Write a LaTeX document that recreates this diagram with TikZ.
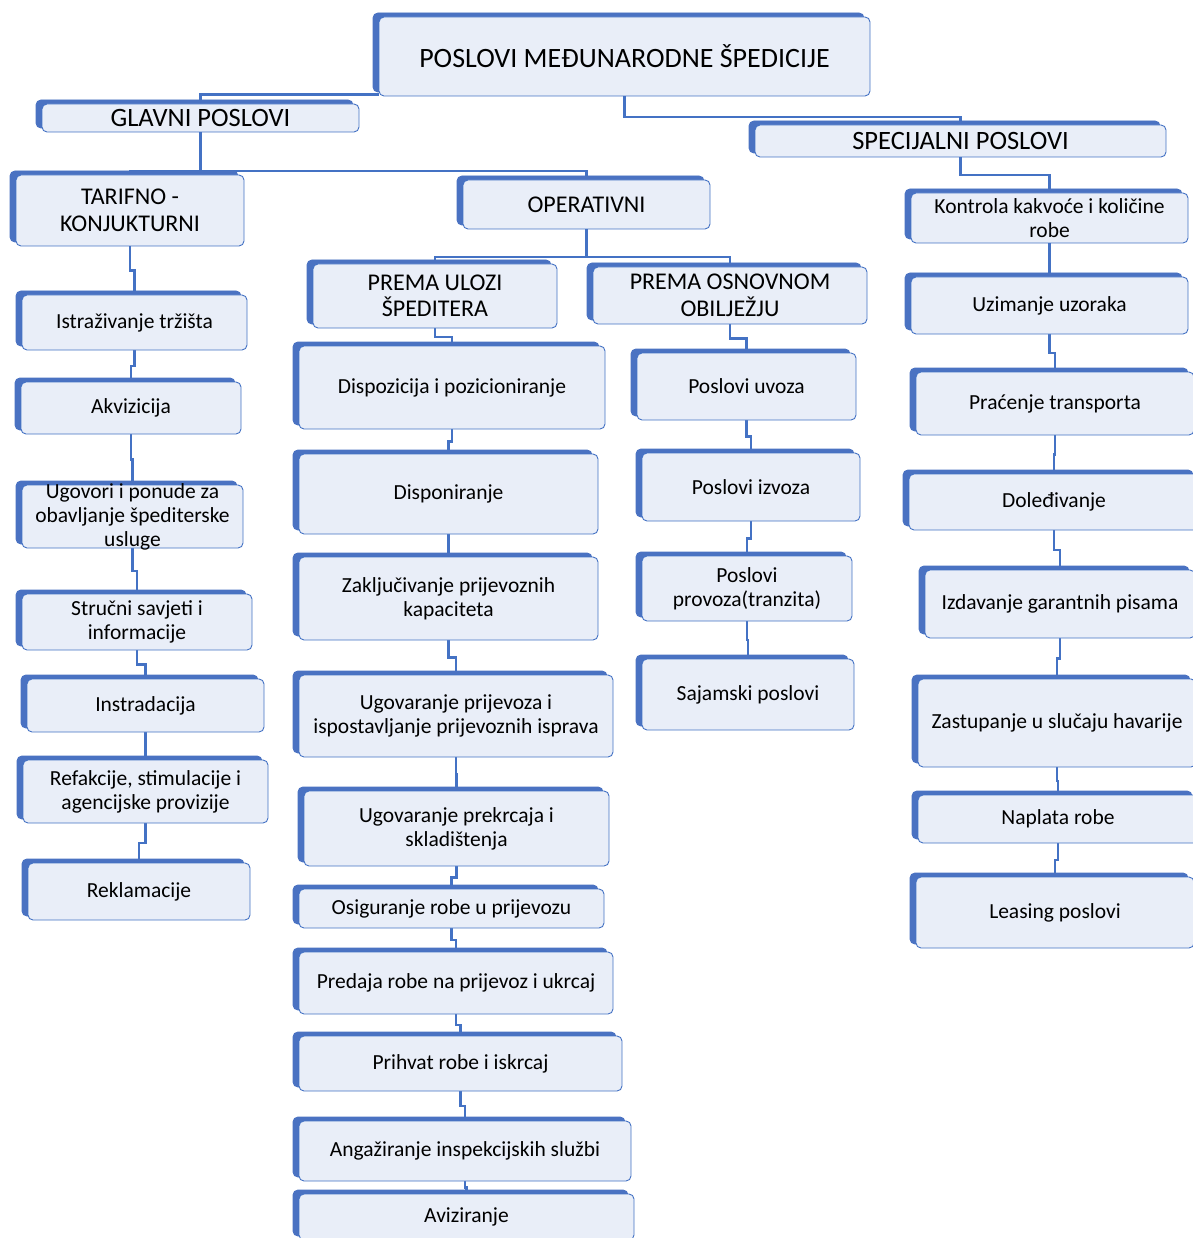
\documentclass[tikz,border=0pt]{standalone}
\usepackage{fontspec}
\setmainfont{Carlito}
\usetikzlibrary{calc, shadows, backgrounds}
\definecolor{lineblue}{HTML}{4472C4}
\definecolor{backblue}{HTML}{4A72C2}
\definecolor{boxfill}{HTML}{E9EEF8}

\begin{document}
\begin{tikzpicture}[x=1pt, y=-1pt,
    box/.style={draw=lineblue, line width=0.9pt, fill=boxfill, rounded corners=5pt,
      align=center, inner xsep=3pt, inner ysep=0pt,
      font=\fontsize{21.5}{24}\selectfont,
      copy shadow={shadow xshift=-6pt, shadow yshift=4pt, draw=backblue, fill=backblue}},
    head/.style={box, font=\fontsize{24}{26.5}\selectfont},
    link/.style={draw=lineblue, line width=2.3pt}]
	\useasboundingbox (0,0) rectangle (1192,1238);
	% Top levels
	\node[head, minimum width=491pt, minimum height=79pt, font=\fontsize{28}{30}\selectfont] (top) at (624.5,56.5) {POSLOVI MEĐUNARODNE ŠPEDICIJE};
	\node[head, minimum width=317pt, minimum height=28pt, font=\fontsize{26.5}{28}\selectfont] (glavni) at (200.5,118) {GLAVNI POSLOVI};
	\node[head, minimum width=411pt, minimum height=32pt, font=\fontsize{26.5}{28}\selectfont] (spec) at (960.5,141) {SPECIJALNI POSLOVI};
	\node[head, minimum width=228pt, minimum height=71pt] (tar) at (130,210.5) {TARIFNO -\\KONJUKTURNI};
	\node[head, minimum width=247pt, minimum height=49pt] (oper) at (586.5,204.5) {OPERATIVNI};
	\node[head, minimum width=244pt, minimum height=64pt] (uloga) at (435,296) {PREMA ULOZI\\ŠPEDITERA};
	\node[head, minimum width=274pt, minimum height=57pt] (obil) at (730,295.5) {PREMA OSNOVNOM\\OBILJEŽJU};
	% Tarifno - konjukturni
	\node[box, minimum width=225pt, minimum height=55pt] (ist) at (134.5,322.5) {Istraživanje tržišta};
	\node[box, minimum width=220pt, minimum height=52pt] (akv) at (131,408) {Akvizicija};
	\node[box, minimum width=221pt, minimum height=63pt, inner ysep=-5pt] (ugo) at (132.5,516.5) {Ugovori i ponude za\\obavljanje špediterske\\usluge};
	\node[box, minimum width=230pt, minimum height=56pt] (str) at (137,622) {Stručni savjeti i\\informacije};
	\node[box, minimum width=237pt, minimum height=53pt] (ins) at (145.5,705.5) {Instradacija};
	\node[box, minimum width=245pt, minimum height=63pt] (ref) at (145.5,791.5) {Refakcije, stimulacije i\\agencijske provizije};
	\node[box, minimum width=222pt, minimum height=57pt] (rek) at (139,891.5) {Reklamacije};
	% Prema ulozi speditera
	\node[box, minimum width=306pt, minimum height=83pt] (dis) at (452,387.5) {Dispozicija i pozicioniranje};
	\node[box, minimum width=299pt, minimum height=80pt] (dsp) at (448.5,494) {Disponiranje};
	\node[box, minimum width=299pt, minimum height=83pt] (zak) at (448.5,598.5) {Zaključivanje prijevoznih\\kapaciteta};
	\node[box, minimum width=314pt, minimum height=82pt] (upr) at (456,716) {Ugovaranje prijevoza i\\ispostavljanje prijevoznih isprava};
	\node[box, minimum width=305pt, minimum height=75pt] (upk) at (456.5,828.5) {Ugovaranje prekrcaja i\\skladištenja};
	\node[box, minimum width=305pt, minimum height=39pt] (osi) at (451.5,908.5) {Osiguranje robe u prijevozu};
	\node[box, minimum width=314pt, minimum height=62pt] (pre) at (456,983) {Predaja robe na prijevoz i ukrcaj};
	\node[box, minimum width=323pt, minimum height=55pt] (pri) at (460.5,1063.5) {Prihvat robe i iskrcaj};
	\node[box, minimum width=332pt, minimum height=60pt] (ang) at (465,1151) {Angažiranje inspekcijskih službi};
	\node[box, minimum width=335pt, minimum height=46pt] (avi) at (466.5,1217) {Aviziranje};
	% Prema osnovnom obiljezju
	\node[box, minimum width=219pt, minimum height=67pt] (uvo) at (746.5,386.5) {Poslovi uvoza};
	\node[box, minimum width=218pt, minimum height=68pt] (izv) at (751,487) {Poslovi izvoza};
	\node[box, minimum width=210pt, minimum height=65pt] (pro) at (747,588.5) {Poslovi\\provoza(tranzita)};
	\node[box, minimum width=212pt, minimum height=71pt] (saj) at (748,694.5) {Sajamski poslovi};
	% Specijalni poslovi
	\node[box, minimum width=277pt, minimum height=50pt] (kon) at (1049.5,218) {Kontrola kakvoće i količine\\robe};
	\node[box, minimum width=277pt, minimum height=57pt] (uzi) at (1049.5,305.5) {Uzimanje uzoraka};
	\node[box, minimum width=278pt, minimum height=63pt] (pra) at (1055,403.5) {Praćenje transporta};
	\node[box, minimum width=290pt, minimum height=56pt] (dol) at (1054,502) {Doleđivanje};
	\node[box, minimum width=270pt, minimum height=68pt] (izd) at (1060,604) {Izdavanje garantnih pisama};
	\node[box, minimum width=278pt, minimum height=88pt] (zas) at (1057,723) {Zastupanje u slučaju havarije};
	\node[box, minimum width=280pt, minimum height=48pt] (nap) at (1058,819) {Naplata robe};
	\node[box, minimum width=278pt, minimum height=71pt] (lea) at (1055,912.5) {Leasing poslovi};
	% Connectors
	\begin{scope}[on background layer]
		\draw[link] (top.south) |- (spec.north |- 0,117) -- (spec.north);
		\draw[link] ($(top.south west)+(0,2pt)$) -| (glavni.north);
		\draw[link] (glavni.south) |- (tar.north |- 0,171) -- (tar.north);
		\draw[link] (glavni.south |- 0,171) -| (oper.north);
		\draw[link] (oper.south) |- (uloga.north |- 0,257) -- (uloga.north);
		\draw[link] (oper.south |- 0,257) -| (obil.north);
		\foreach \a/\b in {tar/ist, ist/akv, akv/ugo, ugo/str, str/ins, ins/ref, ref/rek,
		    uloga/dis, dis/dsp, dsp/zak, zak/upr, upr/upk, upk/osi, osi/pre, pre/pri, pri/ang, ang/avi,
		    obil/uvo, uvo/izv, izv/pro, pro/saj,
		    spec/kon, kon/uzi, uzi/pra, pra/dol, dol/izd, izd/zas, zas/nap, nap/lea}
		    \draw[link] (\a.south) |- ($(\a.south)!.5!(\b.north)$) -| (\b.north);
	\end{scope}
\end{tikzpicture}
\end{document}
